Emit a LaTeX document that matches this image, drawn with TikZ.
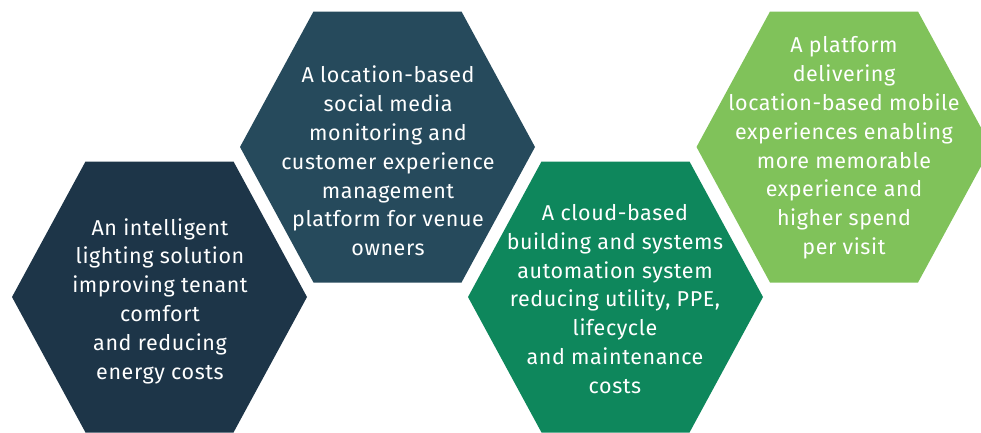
\documentclass[tikz,border=0pt]{standalone}
\usepackage{fontspec}
\setmainfont{Fira Sans}[LetterSpace=2.7]
\definecolor{hexA}{HTML}{1D3548}
\definecolor{hexB}{HTML}{264A5C}
\definecolor{hexC}{HTML}{0E875C}
\definecolor{hexD}{HTML}{80C25A}
\tikzset{
  hexlabel/.style={text=white, align=center, font=\fontsize{21.5}{28.8}\selectfont, inner sep=0pt},
}
\newcommand{\hexpath}[3]{% center x, center y, colour
  \fill[#3] (#1-147.5,#2) -- (#1-74,#2-135.5) -- (#1+74,#2-135.5) -- (#1+147.5,#2) -- (#1+74,#2+135.5) -- (#1-74,#2+135.5) -- cycle;}
\begin{document}
\begin{tikzpicture}[x=1pt,y=-1pt]
\useasboundingbox (0,0) rectangle (981,432);
\begin{scope}
\clip (0,0) rectangle (981,432);
\hexpath{159.5}{297}{hexA}
\hexpath{387.5}{147}{hexB}
\hexpath{615.5}{297}{hexC}
\hexpath{844}{147}{hexD}
\end{scope}
\node[hexlabel] (t1) at (160,301) {An intelligent\\lighting solution\\improving tenant\\comfort\\and reducing\\energy costs};
\node[hexlabel] (t2) at (388,161) {A location-based\\social media\\monitoring and\\customer experience\\management\\platform for venue\\owners};
\node[hexlabel] (t3) at (615,299) {A cloud-based\\building and systems\\automation system\\reducing utility, PPE,\\lifecycle\\and maintenance\\costs};
\node[hexlabel] (t4) at (844,148) {A platform\\delivering\\location-based mobile\\experiences enabling\\more memorable\\experience and\\higher spend\\per visit};
\end{tikzpicture}
\end{document}
